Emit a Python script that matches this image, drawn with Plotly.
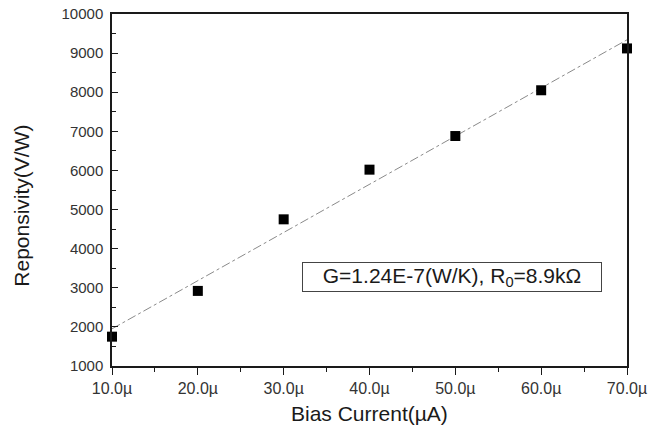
import plotly.graph_objects as go

# Data
bias_current_uA = [10, 20, 30, 40, 50, 60, 70]
responsivity = [1750, 2920, 4750, 6020, 6880, 8050, 9120]

# Linear-fit line endpoints
fit_x = [10, 70]
fit_y = [1950, 9340]

x_tickvals = [10, 20, 30, 40, 50, 60, 70]
x_ticktext = ["10.0\u00b5", "20.0\u00b5", "30.0\u00b5", "40.0\u00b5", "50.0\u00b5", "60.0\u00b5", "70.0\u00b5"]
y_tickvals = [1000, 2000, 3000, 4000, 5000, 6000, 7000, 8000, 9000, 10000]
y_ticktext = ["1000", "2000", "3000", "4000", "5000", "6000", "7000", "8000", "9000", "10000"]

FONT = "Liberation Sans, Arial, sans-serif"
INK = "#1a1a1a"

fig = go.Figure()
fig.add_trace(go.Scatter(
    x=fit_x, y=fit_y, mode="lines",
    line=dict(color="#8a8a8a", width=1, dash="dashdot"),
    showlegend=False, hoverinfo="skip"))
fig.add_trace(go.Scatter(
    x=bias_current_uA, y=responsivity, mode="markers",
    marker=dict(symbol="square", size=10, color="#000000"),
    cliponaxis=False, showlegend=False))

fig.update_layout(
    width=652, height=431,
    margin=dict(l=112, r=25, t=14, b=65, autoexpand=False),
    paper_bgcolor="white", plot_bgcolor="white",
    font=dict(family=FONT, color=INK, size=15),
    xaxis=dict(
        range=[10, 70], tickvals=x_tickvals, ticktext=x_ticktext,
        showgrid=False, zeroline=False, automargin=False,
        showline=True, linecolor=INK, linewidth=1.5, mirror=True,
        ticks="outside", ticklen=7, tickwidth=1.2, tickcolor=INK,
        minor=dict(ticks="outside", ticklen=4, dtick=5, tickcolor=INK, showgrid=False),
        tickfont=dict(size=16, color="#333"),
        ticklabeloverflow="allow",
    ),
    yaxis=dict(
        range=[1000, 10000], tickvals=y_tickvals, ticktext=y_ticktext,
        showgrid=False, zeroline=False, automargin=False,
        showline=True, linecolor=INK, linewidth=1.5, mirror=True,
        ticks="inside", ticklen=6, tickwidth=1.2, tickcolor=INK,
        minor=dict(ticks="inside", ticklen=4, dtick=500, tickcolor=INK, showgrid=False),
        tickfont=dict(size=15, color="#333"),
        ticklabelstandoff=4,
        ticklabeloverflow="allow",
    ),
    annotations=[
        dict(text="Bias Current(\u00b5A)", xref="paper", yref="paper",
             x=0.5, y=-0.135, xanchor="center", yanchor="middle",
             showarrow=False, font=dict(size=21, color=INK)),
        dict(text="Reponsivity(V/W)", xref="paper", y=0.455, yref="paper",
             x=-0.175, xanchor="center", yanchor="middle", textangle=-90,
             showarrow=False, font=dict(size=21, color=INK)),
        dict(text="G=1.24E-7(W/K), R<sub>0</sub>=8.9k\u03a9",
             xref="paper", yref="paper", x=0.66, y=0.253,
             xanchor="center", yanchor="middle", showarrow=False,
             width=296, height=26, borderpad=1,
             bordercolor="#444", borderwidth=1, bgcolor="white",
             font=dict(size=21, color=INK)),
    ],
)

fig.write_html("out.html", config={"displayModeBar": False},
               post_script="document.body.style.margin='0';")
